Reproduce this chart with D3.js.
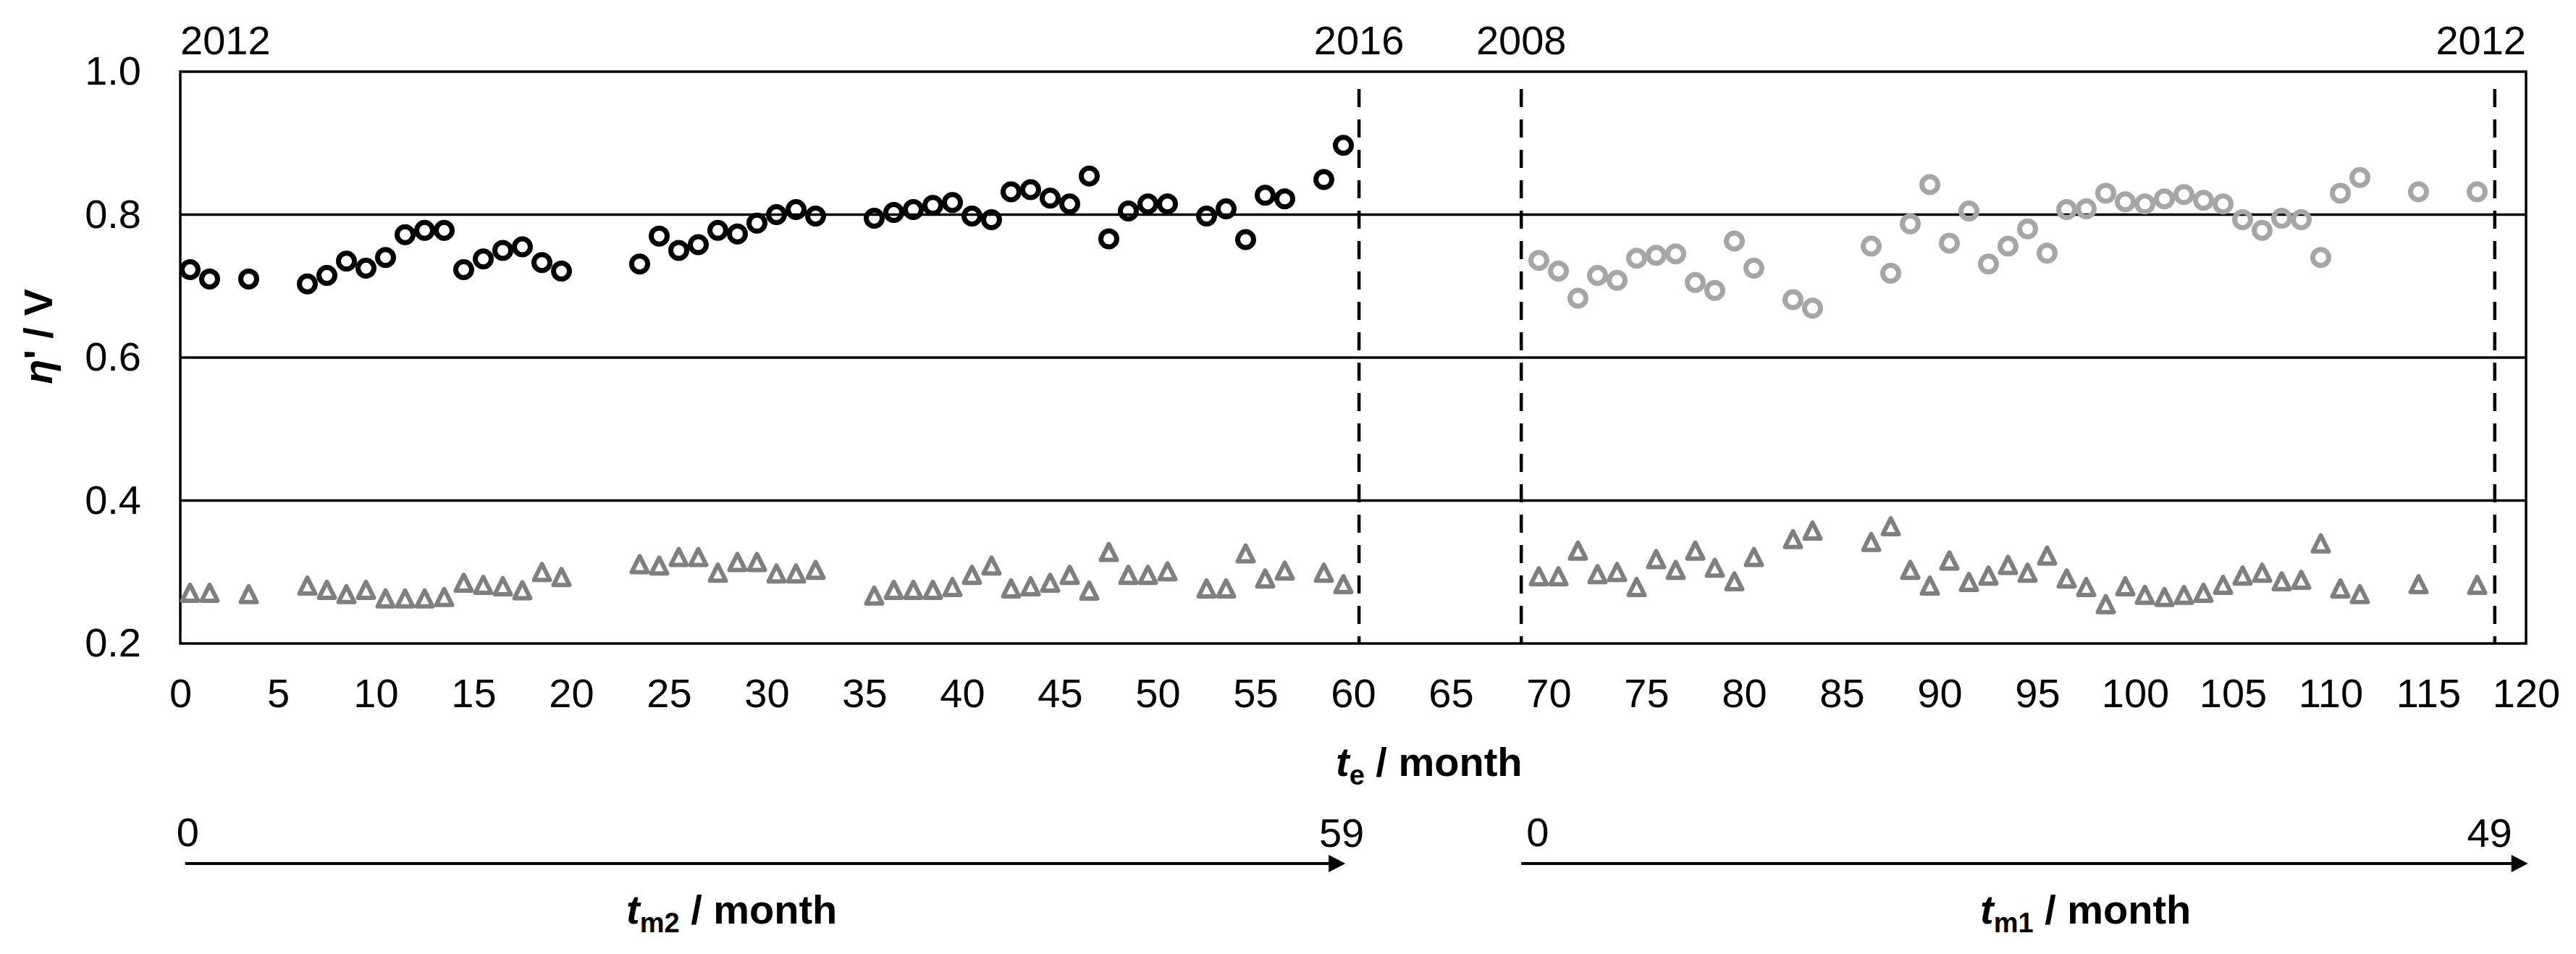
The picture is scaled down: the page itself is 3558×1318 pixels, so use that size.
<!DOCTYPE html>
<html>
<head>
<meta charset="utf-8">
<script src="https://cdn.jsdelivr.net/npm/d3@7"></script>
<style>
  html, body { margin: 0; padding: 0; background: #fff; }
  svg { display: block; font-family: "Liberation Sans", Arial, sans-serif; }
</style>
</head>
<body>
<svg id="chart" width="3558" height="1318"></svg>
<script>
// ---------- data ----------
const teSet2 = [0.5,1.5,3.5,6.5,7.5,8.5,9.5,10.5,11.5,12.5,13.5,14.5,15.5,16.5,17.5,18.5,19.5,
  23.5,24.5,25.5,26.5,27.5,28.5,29.5,30.5,31.5,32.5,
  35.5,36.5,37.5,38.5,39.5,40.5,41.5,42.5,43.5,44.5,45.5,46.5,47.5,48.5,49.5,50.5,
  52.5,53.5,54.5,55.5,56.5,58.5,59.5];
const etaSet2 = [0.723,0.710,0.710,0.703,0.715,0.735,0.725,0.740,0.772,0.778,0.778,0.723,0.738,0.750,0.755,0.733,0.721,
  0.731,0.770,0.750,0.758,0.778,0.773,0.788,0.800,0.807,0.798,
  0.795,0.803,0.807,0.813,0.817,0.798,0.793,0.832,0.835,0.823,0.815,0.854,0.766,0.805,0.815,0.815,
  0.798,0.808,0.765,0.827,0.822,0.849,0.897];
const triSet2 = [0.271,0.271,0.269,0.281,0.275,0.269,0.275,0.263,0.263,0.263,0.265,0.285,0.282,0.280,0.2745,0.300,0.293,
  0.311,0.309,0.321,0.321,0.299,0.314,0.314,0.298,0.298,0.303,
  0.267,0.275,0.275,0.275,0.279,0.296,0.309,0.277,0.280,0.285,0.296,0.274,0.328,0.296,0.296,0.301,
  0.277,0.277,0.326,0.291,0.302,0.299,0.283];

const teSet1 = [69.5,70.5,71.5,72.5,73.5,74.5,75.5,76.5,77.5,78.5,79.5,80.5,82.5,83.5,
  86.5,87.5,88.5,89.5,90.5,91.5,92.5,93.5,94.5,95.5,96.5,97.5,98.5,99.5,100.5,101.5,102.5,103.5,104.5,
  105.5,106.5,107.5,108.5,109.5,110.5,111.5,114.5,117.5];
const etaSet1 = [0.736,0.721,0.683,0.715,0.708,0.739,0.743,0.745,0.705,0.694,0.763,0.725,0.681,0.669,
  0.756,0.718,0.787,0.842,0.760,0.805,0.731,0.756,0.780,0.746,0.807,0.808,0.830,0.818,0.815,0.822,0.828,0.820,0.815,
  0.793,0.778,0.795,0.793,0.740,0.830,0.852,0.832,0.832];
const triSet1 = [0.294,0.294,0.330,0.297,0.300,0.279,0.318,0.303,0.330,0.306,0.287,0.321,0.346,0.358,
  0.342,0.364,0.303,0.281,0.316,0.286,0.295,0.310,0.299,0.323,0.291,0.279,0.255,0.280,0.268,0.265,0.268,0.271,0.282,
  0.295,0.299,0.287,0.289,0.340,0.277,0.269,0.283,0.282];

const xTicks = d3.range(0, 121, 5);
const yTicks = [0.2, 0.4, 0.6, 0.8, 1.0];
const dashedTe = [60.3, 68.6, 118.4];
const yearLabels = [
  {te: 0,     text: "2012", anchor: "start"},
  {te: 60.3,  text: "2016", anchor: "middle"},
  {te: 68.6,  text: "2008", anchor: "middle"},
  {te: 120,   text: "2012", anchor: "end"}
];
const arrows = [
  {from: 0.25, to: 59.6, start: "0", end: "59", sub: "m2", titleX: 865},
  {from: 68.6, to: 120.1, start: "0", end: "49", sub: "m1", titleX: 2735}
];

// ---------- layout ----------
const svg = d3.select("#chart");
const L = 249, R = 3489, T = 99, B = 889;
const x = d3.scaleLinear().domain([0, 120]).range([L, R]);
const y = d3.scaleLinear().domain([0.2, 1.0]).range([B, T]);
const FS = 56;

// gridlines
svg.append("g").selectAll("line").data([0.4, 0.6, 0.8]).join("line")
  .attr("x1", L).attr("x2", R).attr("y1", d => y(d)).attr("y2", d => y(d))
  .attr("stroke", "#000").attr("stroke-width", 3.5);

// border
svg.append("rect").attr("x", L).attr("y", T).attr("width", R - L).attr("height", B - T)
  .attr("fill", "none").attr("stroke", "#000").attr("stroke-width", 3.5);

// dashed lines
svg.append("g").selectAll("line").data(dashedTe).join("line")
  .attr("x1", d => x(d)).attr("x2", d => x(d)).attr("y1", 123).attr("y2", B)
  .attr("stroke", "#000").attr("stroke-width", 4.5).attr("stroke-dasharray", "25 17");

// axes
const xAxis = svg.append("g").attr("transform", `translate(0,${B})`)
  .call(d3.axisBottom(x).tickValues(xTicks).tickSize(0).tickPadding(48).tickFormat(d3.format("d")));
const yAxis = svg.append("g").attr("transform", `translate(${L},0)`)
  .call(d3.axisLeft(y).tickValues(yTicks).tickSize(0).tickPadding(54).tickFormat(d3.format(".1f")));
[xAxis, yAxis].forEach(a => {
  a.select(".domain").remove();
  a.selectAll("text").attr("font-size", FS).attr("font-family", "Liberation Sans, Arial, sans-serif").attr("fill", "#000");
});

// markers
const tri = "M0,-11L11,11L-11,11Z";
const gTri = svg.append("g");
gTri.selectAll("path.t2").data(teSet2.map((t, i) => [t, triSet2[i]])).join("path")
  .attr("class", "t2").attr("d", tri)
  .attr("transform", d => `translate(${x(d[0])},${y(d[1])})`)
  .attr("fill", "none").attr("stroke", "#7f7f7f").attr("stroke-width", 6).attr("stroke-linejoin", "round");
gTri.selectAll("path.t1").data(teSet1.map((t, i) => [t, triSet1[i]])).join("path")
  .attr("class", "t1").attr("d", tri)
  .attr("transform", d => `translate(${x(d[0])},${y(d[1])})`)
  .attr("fill", "none").attr("stroke", "#7f7f7f").attr("stroke-width", 6).attr("stroke-linejoin", "round");

svg.append("g").selectAll("circle").data(teSet2.map((t, i) => [t, etaSet2[i]])).join("circle")
  .attr("cx", d => x(d[0])).attr("cy", d => y(d[1])).attr("r", 11)
  .attr("fill", "none").attr("stroke", "#000").attr("stroke-width", 7);
svg.append("g").selectAll("circle").data(teSet1.map((t, i) => [t, etaSet1[i]])).join("circle")
  .attr("cx", d => x(d[0])).attr("cy", d => y(d[1])).attr("r", 11)
  .attr("fill", "none").attr("stroke", "#a6a6a6").attr("stroke-width", 7);

// year labels
svg.append("g").selectAll("text").data(yearLabels).join("text")
  .attr("x", d => x(d.te)).attr("y", 75).attr("text-anchor", d => d.anchor)
  .attr("font-size", FS).text(d => d.text);

// y title
const yt = svg.append("text").attr("transform", "translate(72,465) rotate(-90)")
  .attr("text-anchor", "middle").attr("font-size", FS).attr("font-weight", "bold");
yt.append("tspan").attr("font-style", "italic").text("η");
yt.append("tspan").text("' / V");

// x title
const xt = svg.append("text").attr("x", 1845).attr("y", 1072)
  .attr("font-size", FS).attr("font-weight", "bold");
xt.append("tspan").attr("font-style", "italic").text("t");
xt.append("tspan").attr("font-size", 38).attr("dy", 12).text("e");
xt.append("tspan").attr("dy", -12).text(" / month");

// bottom arrows
const ay = 1193;
arrows.forEach(a => {
  const x0 = x(a.from), x1 = x(a.to);
  svg.append("line").attr("x1", x0).attr("x2", x1 - 20).attr("y1", ay).attr("y2", ay)
    .attr("stroke", "#000").attr("stroke-width", 4);
  svg.append("path").attr("d", `M${x1},${ay}L${x1 - 23},${ay - 12}L${x1 - 23},${ay + 12}Z`).attr("fill", "#000");
  svg.append("text").attr("x", x0 - 12 + (a.sub === "m1" ? 19 : 0)).attr("y", 1169).attr("font-size", FS).text(a.start);
  svg.append("text").attr("x", x1 + (a.sub === "m2" ? 26 : -22)).attr("y", 1170).attr("text-anchor", "end")
    .attr("font-size", FS).text(a.end);
  const tt = svg.append("text").attr("x", a.titleX).attr("y", 1276).attr("font-size", FS).attr("font-weight", "bold");
  tt.append("tspan").attr("font-style", "italic").text("t");
  tt.append("tspan").attr("font-size", 38).attr("dy", 12).text(a.sub);
  tt.append("tspan").attr("dy", -12).text(" / month");
});
</script>
</body>
</html>
